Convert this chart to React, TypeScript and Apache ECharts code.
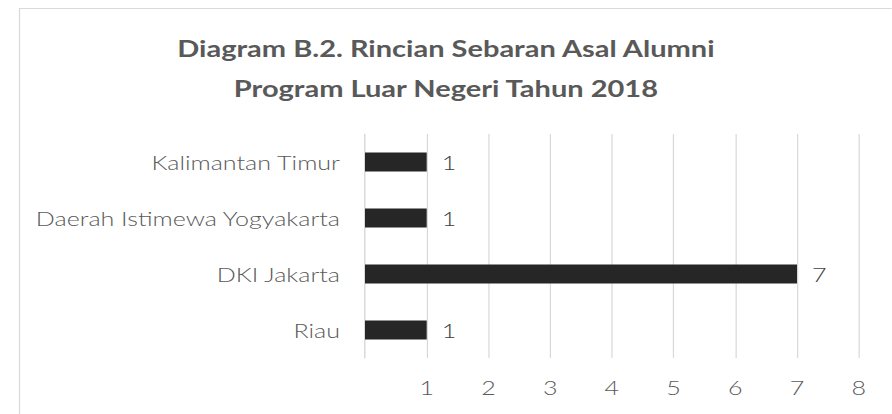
import React, { useEffect, useRef } from "react";
import * as echarts from "echarts";

const titleLines = ["Diagram B.2. Rincian Sebaran Asal Alumni", "Program Luar Negeri Tahun 2018"];
const categories = ["Riau", "DKI Jakarta", "Daerah Istimewa Yogyakarta", "Kalimantan Timur"];
const values = [1, 7, 1, 1];
const xMin = 0;
const xMax = 8;
const xInterval = 1;

// the reference is horizontally stretched; draw narrower and stretch
const STRETCH = 1.23;
const W = 892 / STRETCH;

export default function App() {
  const ref = useRef<HTMLDivElement>(null);
  useEffect(() => {
    if (!ref.current) return;
    const chart = echarts.init(ref.current, null, { renderer: "svg" });
    const sx = (v: number) => v / STRETCH;
    chart.setOption({
      animation: false,
      backgroundColor: "#ffffff",
      title: {
        text: titleLines.join("\n"),
        left: "center",
        top: 23,
        textStyle: {
          fontFamily: "Lato",
          fontWeight: "bold",
          fontSize: 23.6,
          lineHeight: 40,
          color: "#595959",
        },
      },
      graphic: [
        {
          type: "rect",
          shape: { x: sx(19.5), y: 8.5, width: 900, height: 500 },
          style: { fill: "none", stroke: "#d9d9d9", lineWidth: 1 },
          silent: true,
        },
      ],
      grid: { left: sx(365), right: W - sx(859), top: 134, bottom: 56, containLabel: false },
      xAxis: {
        type: "value",
        min: xMin,
        max: xMax,
        interval: xInterval,
        axisLine: { show: false },
        axisTick: { show: false },
        splitLine: { show: true, lineStyle: { color: "#d9d9d9", width: 1 } },
        axisLabel: {
          showMinLabel: false,
          margin: 19,
          fontFamily: "Lato",
          fontWeight: 300,
          fontSize: 20.4,
          color: "#595959",
        },
      },
      yAxis: {
        type: "category",
        data: categories,
        axisLine: { show: true, lineStyle: { color: "#d9d9d9", width: 1 } },
        axisTick: { show: false },
        axisLabel: {
          margin: sx(25),
          fontFamily: "Lato",
          fontWeight: 300,
          fontSize: 20.4,
          color: "#595959",
        },
      },
      series: [
        {
          type: "bar",
          data: values,
          barWidth: 19,
          itemStyle: { color: "#262626" },
          label: {
            show: true,
            position: "right",
            distance: sx(15),
            fontFamily: "Lato",
            fontWeight: 300,
            fontSize: 20.4,
            color: "#404040",
          },
        },
      ],
    });
    return () => chart.dispose();
  }, []);
  return (
    <div
      ref={ref}
      style={{
        position: "fixed",
        left: 0,
        top: 0,
        width: W,
        height: 414,
        transform: `scaleX(${STRETCH})`,
        transformOrigin: "0 0",
      }}
    />
  );
}
